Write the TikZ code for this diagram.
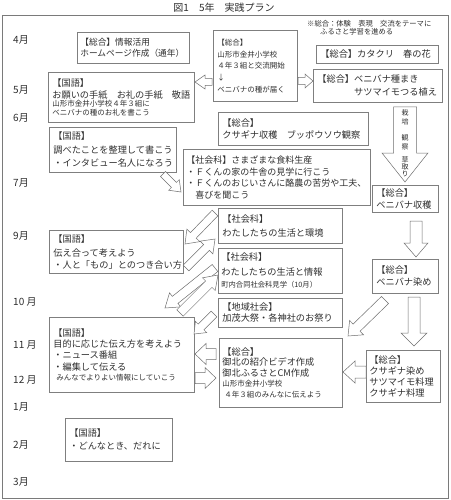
\documentclass[tikz,border=0pt]{standalone}
\usepackage{fontspec}
\setmainfont{Noto Sans CJK JP}
\usetikzlibrary{calc}
\definecolor{framegray}{HTML}{7A7A7A}
\definecolor{boxgray}{HTML}{7F7F7F}
\definecolor{arrowgray}{HTML}{6E6E6E}
\definecolor{inkgray}{HTML}{2E2E2E}
\newcommand{\mainf}{\fontsize{9.2}{12}\selectfont}
\newcommand{\smallf}{\fontsize{7.5}{8.7}\selectfont}
\tikzset{
  planbox/.style={draw=boxgray, line width=0.7pt, rectangle, anchor=north west,
    inner xsep=4pt, inner ysep=1pt, align=left, font=\mainf, text=inkgray},
  month/.style={anchor=west, inner sep=0pt, font=\fontsize{10}{12}\selectfont, text=inkgray},
  vtext/.style={align=center, inner sep=0pt, font=\fontsize{7}{8.7}\selectfont, text=inkgray},
  hollow/.style={draw=arrowgray, line width=0.5pt, fill=white, line join=miter},
}
% tail, tip, shaft half width, head half width, head length
\newcommand{\hollowarrow}[5]{%
  \coordinate (hb) at ($(#2)!#5!(#1)$);
  \draw[hollow] ($(#1)!#3!90:(#2)$) -- ($(hb)!#3!90:(#2)$) -- ($(hb)!#4!90:(#2)$) -- (#2)
    -- ($(hb)!#4!-90:(#2)$) -- ($(hb)!#3!-90:(#2)$) -- ($(#1)!#3!-90:(#2)$) -- cycle;
}
\begin{document}
\begin{tikzpicture}[x=1pt,y=-1pt]
\useasboundingbox (0,0) rectangle (450,500);
\node (title) [inner sep=0pt, font=\fontsize{10}{12}\selectfont, text=inkgray] at (224,8) {図1　5年　実践プラン};
\draw [framegray, line width=0.8pt] (2,15) rectangle (448,498);
\node (note) [anchor=north west, inner sep=0pt, align=left, font=\fontsize{7.3}{8.5}\selectfont, text=inkgray] at (307,20) {※総合：体験　表現　交流をテーマに\\\hspace*{13pt}ふるさと学習を進める};

\node (apr) [month] at (13,40) {4月};
\node (may) [month] at (13,90) {5月};
\node (jun) [month] at (13,118) {6月};
\node (jul) [month] at (13,183) {7月};
\node (sep) [month] at (13,236) {9月};
\node (oct) [month] at (13,302) {10 月};
\node (nov) [month] at (13,345) {11 月};
\node (dec) [month] at (13,380) {12 月};
\node (jan) [month] at (13,407) {1月};
\node (feb) [month] at (13,445) {2月};
\node (mar) [month] at (13,482) {3月};

\node (info) [planbox, minimum width=112pt, minimum height=31pt, text width=106pt, inner xsep=3pt, font=\fontsize{8.7}{11.5}\selectfont] at (77,32) {【総合】情報活用\\ホームページ作成（通年）};
\node (kokugo5) [planbox, minimum width=146pt, minimum height=50pt, text width=138pt] at (48,72) {【国語】\par お願いの手紙　お礼の手紙　敬語\par\smallf 山形市金井小学校４年３組に\par ベニバナの種のお礼を書こう\par};
\node (koryu) [planbox, minimum width=84pt, minimum height=71pt, text width=76pt, font=\fontsize{7.5}{11.7}\selectfont] at (213,30) {【総合】\\山形市金井小学校\\４年３組と交流開始\\↓\\ベニバナの種が届く};
\node (katakuri) [planbox, minimum width=122pt, minimum height=18pt, text width=114pt] at (316,45) {【総合】カタクリ　春の花};
\node (tanemaki) [planbox, minimum width=129pt, minimum height=33pt, text width=121pt, font=\fontsize{9.2}{13}\selectfont] at (313,69) {【総合】ベニバナ種まき\\\hphantom{【総合】}サツマイモつる植え};
\node (kusagina) [planbox, minimum width=150pt, minimum height=33pt, text width=142pt] at (218,112) {【総合】\\クサギナ収穫　ブッポウソウ観察};
\node (kokugo6) [planbox, minimum width=127pt, minimum height=45pt, text width=119pt, font=\fontsize{9.2}{13.5}\selectfont] at (49,127) {【国語】\\調べたことを整理して書こう\\・インタビュー名人になろう};
\node (shokuryo) [planbox, minimum width=187pt, minimum height=56pt, text width=181pt, inner xsep=3pt, font=\fontsize{9}{11.7}\selectfont] at (183,149) {【社会科】さまざまな食料生産\\・Ｆくんの家の牛舎の見学に行こう\\・Ｆくんのおじいさんに酪農の苦労や工夫、\\　喜びを聞こう};
\node (shukaku) [planbox, minimum width=66pt, minimum height=27pt, text width=58pt] at (372,185) {【総合】\\ベニバナ収穫};
\node (kankyo) [planbox, minimum width=124pt, minimum height=35pt, text width=116pt, font=\fontsize{9.2}{14}\selectfont] at (218,208) {【社会科】\\わたしたちの生活と環境};
\node (joho) [planbox, minimum width=124pt, minimum height=45pt, text width=118pt, inner xsep=3pt] at (218,248) {\fontsize{9.2}{15}\selectfont【社会科】\par わたしたちの生活と情報\par\fontsize{7.3}{12}\selectfont 町内合同社会科見学（10月）\par};
\node (somome) [planbox, minimum width=66pt, minimum height=34pt, text width=58pt] at (372,259) {【総合】\\ベニバナ染め};
\node (kokugo9) [planbox, minimum width=134pt, minimum height=43pt, text width=126pt] at (49,230) {\fontsize{9.2}{14}\selectfont【国語】\par 伝え合って考えよう\par\fontsize{9.2}{12}\selectfont ・人と「もの」とのつき合い方\par};
\node (chiiki) [planbox, minimum width=124pt, minimum height=29pt, text width=116pt, font=\fontsize{9.2}{11}\selectfont] at (218,298) {【地域社会】\\加茂大祭・各神社のお祭り};
\node (kokugo11) [planbox, minimum width=145pt, minimum height=75pt, text width=137pt, font=\fontsize{9.2}{11}\selectfont] at (49,317) {【国語】\par 目的に応じた伝え方を考えよう\par ・ニュース番組\par\fontsize{9.2}{12.5}\selectfont ・編集して伝える\par\fontsize{7.5}{10}\selectfont\hspace*{3pt}みんなでよりよい情報にしていこう\par};
\node (kitakita) [planbox, minimum width=123pt, minimum height=69pt, text width=117pt, inner xsep=3pt, font=\fontsize{9.2}{10.5}\selectfont] at (219,338) {【総合】\par 御北の紹介ビデオ作成\par 御北ふるさとCM作成\par\fontsize{7.5}{10.5}\selectfont 山形市金井小学校\par\hspace*{2pt}４年３組のみんなに伝えよう\par};
\node (ryori) [planbox, minimum width=74pt, minimum height=52pt, text width=68pt, inner xsep=3pt, font=\fontsize{9.2}{11}\selectfont] at (366,350) {【総合】\\クサギナ染め\\サツマイモ料理\\クサギナ料理};
\node (kokugo2) [planbox, minimum width=107pt, minimum height=43pt, text width=99pt, font=\fontsize{9.2}{13}\selectfont] at (65,418) {【国語】\\・どんなとき、だれに};

\coordinate (koryuA) at (212,82); \coordinate (kokugo5A) at (195,82);
\coordinate (koryuB) at (298,81); \coordinate (tanemakiA) at (313,81);
\coordinate (kokugo6A) at (163,174); \coordinate (shokuryoA) at (181,192);
\coordinate (saibaiT) at (405,107); \coordinate (saibaiH) at (405,182);
\coordinate (shukakuA) at (416,221); \coordinate (somomeA) at (416,257);
\coordinate (somomeB) at (414,297); \coordinate (ryoriA) at (414,346);
\coordinate (ryoriB) at (366,372); \coordinate (kitakitaA) at (343,372);
\coordinate (somomeC) at (385,300); \coordinate (kitakitaB) at (348,336);
\coordinate (kankyoA) at (215,213); \coordinate (kokugo9A) at (185,244);
\coordinate (kokugo9B) at (186,268); \coordinate (kankyoB) at (215,239);
\coordinate (johoA) at (215,268); \coordinate (kokugo11A) at (165,308);
\coordinate (kokugo11B) at (180,313); \coordinate (johoB) at (218,275);
\coordinate (chiikiA) at (214,314); \coordinate (kokugo11C) at (194,334);
\coordinate (kitakitaC) at (216,354); \coordinate (kokugo11D) at (195,354);
\coordinate (kokugo11E) at (195,378); \coordinate (kitakitaD) at (216,378);

\hollowarrow{koryuA}{kokugo5A}{3.5pt}{7pt}{10pt}
\hollowarrow{koryuB}{tanemakiA}{3.5pt}{7pt}{8pt}
\hollowarrow{kokugo6A}{shokuryoA}{3.5pt}{7.5pt}{10pt}
\hollowarrow{saibaiT}{saibaiH}{11.5pt}{23pt}{29pt}
\hollowarrow{shukakuA}{somomeA}{6pt}{12pt}{14pt}
\hollowarrow{somomeB}{ryoriA}{6pt}{13pt}{13pt}
\hollowarrow{ryoriB}{kitakitaA}{6pt}{11pt}{12pt}
\hollowarrow{somomeC}{kitakitaB}{5pt}{10pt}{12pt}
\hollowarrow{kankyoA}{kokugo9A}{4pt}{9pt}{12pt}
\hollowarrow{kokugo9B}{kankyoB}{4pt}{9pt}{12pt}
\hollowarrow{johoA}{kokugo11A}{4.5pt}{9pt}{13pt}
\hollowarrow{kokugo11B}{johoB}{4.5pt}{9pt}{13pt}
\hollowarrow{chiikiA}{kokugo11C}{4pt}{8pt}{10pt}
\hollowarrow{kitakitaC}{kokugo11D}{5.5pt}{10.5pt}{11pt}
\hollowarrow{kokugo11E}{kitakitaD}{5.5pt}{10.5pt}{11pt}

\node (saibai) [vtext] at (405,117.5) {栽\\培};
\node (kansatsu) [vtext] at (405,142.5) {観\\察};
\node (kusatori) [vtext, font=\fontsize{7}{7.2}\selectfont] at (405,166.5) {草\\取\\り};
\end{tikzpicture}
\end{document}
